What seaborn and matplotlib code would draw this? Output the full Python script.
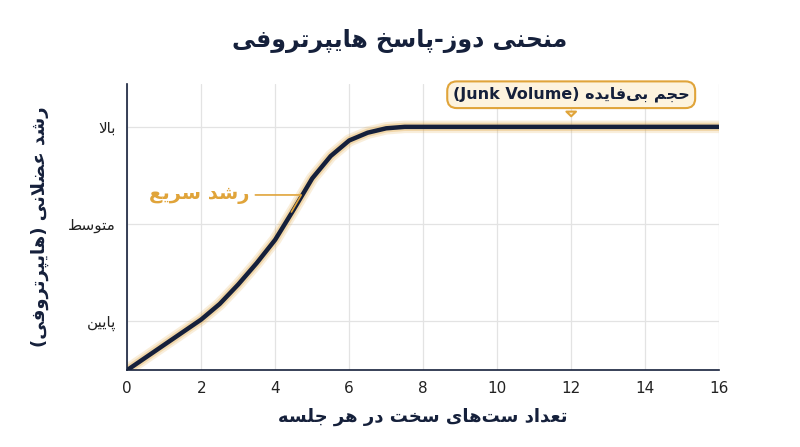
import numpy as np
import matplotlib
matplotlib.use("Agg")
import matplotlib.pyplot as plt
import seaborn as sns
import pandas as pd
import matplotlib.patheffects as pe

FORMS = {
 'ا':(0xFE8D,0xFE8E,None,None),'ب':(0xFE8F,0xFE90,0xFE91,0xFE92),'پ':(0xFB56,0xFB57,0xFB58,0xFB59),
 'ت':(0xFE95,0xFE96,0xFE97,0xFE98),'ج':(0xFE9D,0xFE9E,0xFE9F,0xFEA0),'ح':(0xFEA1,0xFEA2,0xFEA3,0xFEA4),
 'خ':(0xFEA5,0xFEA6,0xFEA7,0xFEA8),'د':(0xFEA9,0xFEAA,None,None),'ر':(0xFEAD,0xFEAE,None,None),
 'ز':(0xFEAF,0xFEB0,None,None),'س':(0xFEB1,0xFEB2,0xFEB3,0xFEB4),'ش':(0xFEB5,0xFEB6,0xFEB7,0xFEB8),
 'ض':(0xFEBD,0xFEBE,0xFEBF,0xFEC0),'ط':(0xFEC1,0xFEC2,0xFEC3,0xFEC4),'ع':(0xFEC9,0xFECA,0xFECB,0xFECC),
 'ف':(0xFED1,0xFED2,0xFED3,0xFED4),'ل':(0xFEDD,0xFEDE,0xFEDF,0xFEE0),'م':(0xFEE1,0xFEE2,0xFEE3,0xFEE4),
 'ن':(0xFEE5,0xFEE6,0xFEE7,0xFEE8),'و':(0xFEED,0xFEEE,None,None),'ه':(0xFEE9,0xFEEA,0xFEEB,0xFEEC),
 'ی':(0xFBFC,0xFBFD,0xFBFE,0xFBFF),
}
def dual(c): return c in FORMS and FORMS[c][2] is not None
def fa(s):
    out=[]; i=0; n=len(s)
    while i<n:
        c=s[i]
        if c not in FORMS:
            if c!='\u200c': out.append(c)
            i+=1; continue
        jp = i>0 and dual(s[i-1])
        if c=='ل' and i+1<n and s[i+1]=='ا':
            out.append(chr(0xFEFC if jp else 0xFEFB)); i+=2; continue
        jn = dual(c) and i+1<n and s[i+1] in FORMS
        f=FORMS[c]
        if jp and jn: g=f[3]
        elif jp: g=f[1]
        elif jn: g=f[2]
        else: g=f[0]
        out.append(chr(g)); i+=1
    return ''.join(out[::-1])

# data
sets = [0, 0.5, 1, 1.5, 2, 2.5, 3, 3.5, 4, 4.5, 5, 5.5, 6, 6.5, 7, 7.5, 8, 10, 12, 14, 16]
growth = [0.5, 0.63, 0.76, 0.89, 1.02, 1.18, 1.38, 1.6, 1.84, 2.15, 2.47, 2.7, 2.86, 2.94, 2.985, 3.0, 3.0, 3.0, 3.0, 3.0, 3.0]
ytick_vals = [1, 2, 3]
ytick_labels = ['پایین', 'متوسط', 'بالا']
xticks = list(range(0, 17, 2))
title = 'منحنی دوز-پاسخ هایپرتروفی'
xlabel = 'تعداد ست‌های سخت در هر جلسه'
ylabel_main = 'رشد عضلانی'
ylabel_paren = 'هایپرتروفی'
fast_label = 'رشد سریع'
junk_fa = 'حجم بی‌فایده'
junk_en = 'Junk Volume'

sns.set_theme(style="whitegrid")
plt.rcParams['font.family'] = ['DejaVu Sans']
navy = '#15203b'
orange = '#e0a43a'

df = pd.DataFrame({'x': sets, 'y': growth})
fig = plt.figure(figsize=(8, 4.47), dpi=100)
ax = fig.add_axes([0.159, 0.172, 0.74, 0.64])
sns.lineplot(data=df, x='x', y='y', ax=ax, color=navy, lw=3.2,
             path_effects=[pe.Stroke(linewidth=9, foreground=orange, alpha=0.18),
                           pe.Stroke(linewidth=6, foreground=orange, alpha=0.3), pe.Normal()])
ax.set_xlim(0, 16)
ax.set_ylim(0.5, 3.44)
ax.set_xticks(xticks)
ax.set_yticks(ytick_vals)
ax.set_yticklabels([fa(t) for t in ytick_labels])
ax.tick_params(labelsize=11, colors='#222222', length=0, pad=8)
ax.grid(color='#e3e3e3', lw=0.9)
for s in ['top', 'right']:
    ax.spines[s].set_visible(False)
for s in ['left', 'bottom']:
    ax.spines[s].set_color(navy); ax.spines[s].set_linewidth(1.2)
ax.set_xlabel(fa(xlabel), fontsize=13, fontweight='bold', color=navy, labelpad=8)
ax.set_ylabel('(' + fa(ylabel_paren) + ') ' + fa(ylabel_main), fontsize=13,
              fontweight='bold', color=navy, labelpad=14)
fig.text(0.5, 0.895, fa(title), ha='center', fontsize=17, fontweight='bold', color=navy)

ax.annotate(fa(fast_label), xy=(4.4, 2.1), xytext=(3.3, 2.3), ha='right', va='center',
            fontsize=14, fontweight='bold', color=orange,
            arrowprops=dict(arrowstyle='-', color=orange, lw=1.2,
                            connectionstyle='angle,angleA=0,angleB=60,rad=0'))
ax.annotate('(' + junk_en + ') ' + fa(junk_fa), xy=(12, 3.08), xytext=(12, 3.33),
            ha='center', va='center', fontsize=11.5, fontweight='bold', color=navy,
            bbox=dict(boxstyle='round,pad=0.35,rounding_size=0.6', fc='#fdf3de', ec=orange, lw=1.5),
            arrowprops=dict(arrowstyle='wedge,tail_width=0.6', fc='#fdf3de', ec=orange, lw=1.5))
fig.savefig('out.png', dpi=100)
